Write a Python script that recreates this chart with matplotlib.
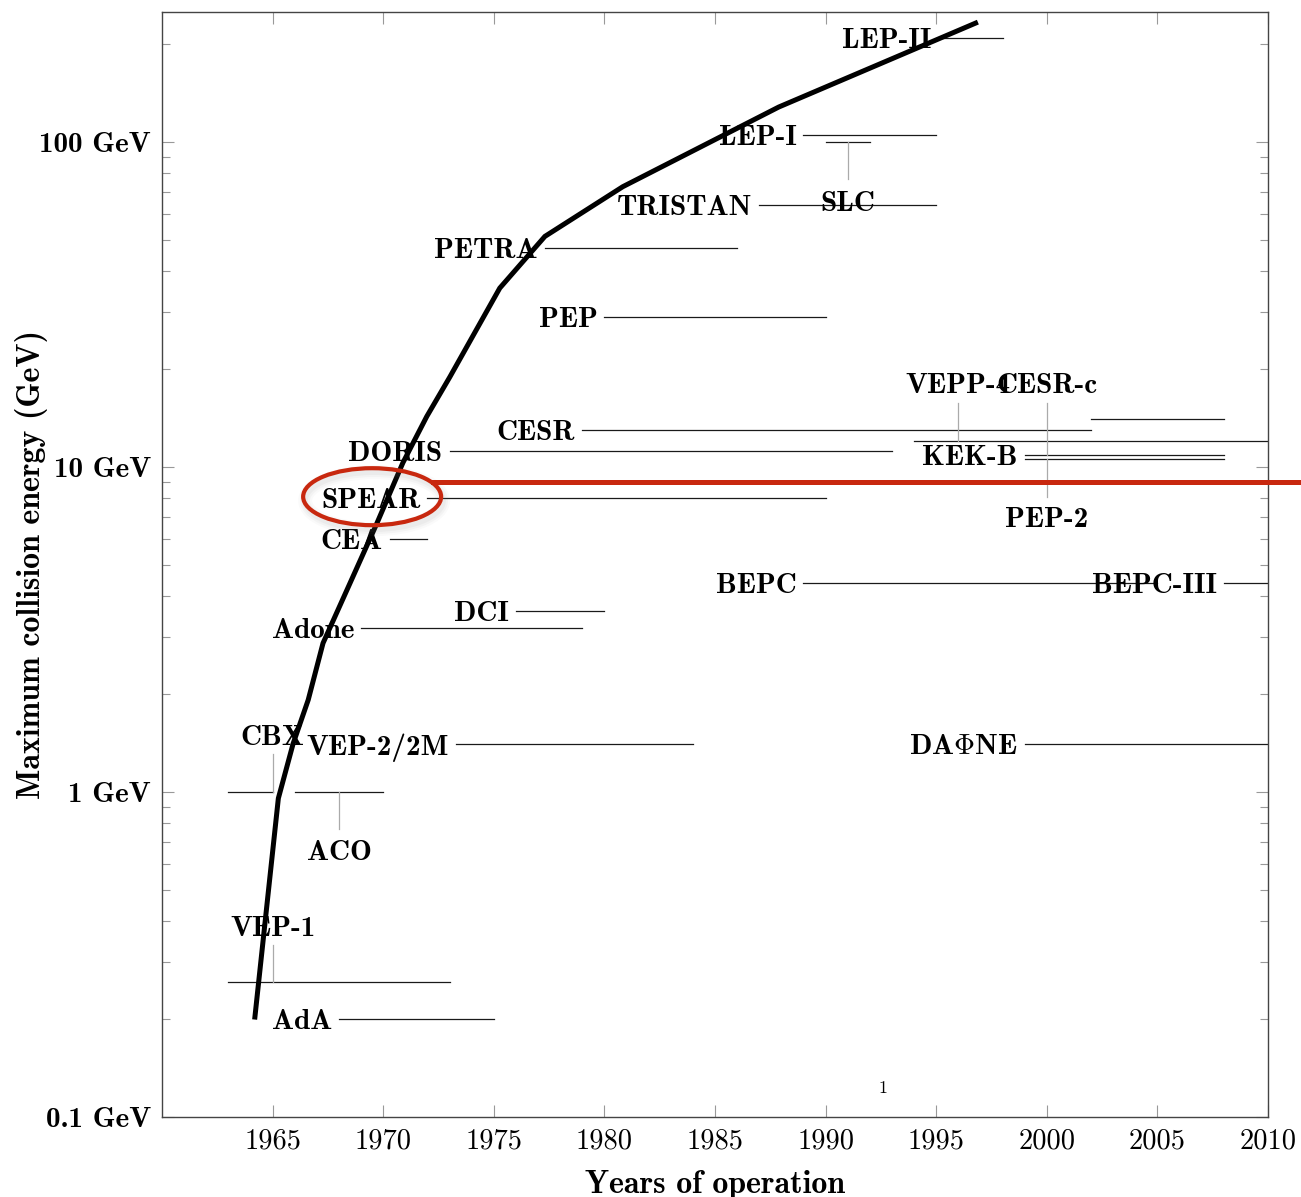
import numpy as np
import matplotlib.pyplot as plt
from matplotlib.patches import Ellipse
from matplotlib.lines import Line2D
from matplotlib.ticker import FixedLocator, NullFormatter

plt.rcParams['mathtext.fontset'] = 'cm'

# upper envelope of collision energy
curve_years = [1964.2, 1965.26, 1965.93, 1966.61, 1967.28, 1968.5, 1969.72, 1970.89,
               1971.97, 1973.01, 1975.27, 1977.31, 1980.83, 1987.88, 1996.78]
curve_gev = [0.203, 0.956, 1.41, 1.92, 2.87, 4.39, 6.72, 10.3,
             14.3, 18.9, 35.5, 51.2, 72.8, 128, 232]

# machines labelled at the start of their line
names = ["AdA", "VEP-2/2M", "Adone", "DCI", "CEA", "SPEAR", "DORIS", "CESR", "PEP",
         "PETRA", "TRISTAN", "LEP-I", "LEP-II", "BEPC", "BEPC-III", r"DA$\Phi$NE", "KEK-B"]
starts = [1968, 1973.3, 1969, 1976, 1970.3, 1972, 1973, 1979, 1980,
          1977.3, 1987, 1989, 1995.1, 1989, 2008, 1999, 1999]
ends = [1975, 1984, 1979, 1980, 1972, 1990, 1993, 2002, 1990,
        1986, 1995, 1995, 1998, 2005, 2010, 2010, 2008]
energy = [0.20, 1.40, 3.2, 3.6, 6.0, 8.0, 11.2, 13.0, 29.0,
          47.0, 64.0, 105.0, 209.0, 4.4, 4.4, 1.40, 10.9]

# machines labelled through a pin
pin_names = ["CBX", "ACO", "VEP-1", "SLC", "VEPP-4", "CESR-c", "PEP-2"]
pin_starts = [1963, 1966, 1963, 1990, 1994, 2002, 1999]
pin_ends = [1965, 1970, 1973, 1992, 2010, 2008, 2008]
pin_energy = [1.0, 1.0, 0.26, 100.0, 12.05, 14.0, 10.6]
pin_x = [1965, 1968, 1965, 1991, 1996, 2000, 2000]
pin_text_y = [1.50, 0.663, 0.387, 65.8, 18.1, 18.1, 7.0]
pin_y0 = [1.31, 1.0, 0.338, 100.0, 15.7, 15.7, 10.6]
pin_y1 = [1.0, 0.768, 0.26, 76.8, 12.05, 10.9, 8.1]

x_ticks = list(range(1965, 2011, 5))
y_ticks = [0.1, 1, 10, 100]
y_ticklabels = ["0.1 GeV", "1 GeV", "10 GeV", "100 GeV"]

fig = plt.figure(figsize=(13.01, 11.97), dpi=100)
ax = fig.add_axes([162 / 1301, 80 / 1197, 1106 / 1301, 1105 / 1197])
ax.set_yscale("log")
ax.set_xlim(1960, 2010)
ax.set_ylim(0.1, 251)

line_col = "#1a1a1a"
label_font = dict(family="cmb10", fontsize=21)

for n, s, e, en in zip(names, starts, ends, energy):
    ax.plot([s, e], [en, en], color=line_col, lw=0.9, zorder=2)
    ax.annotate(n, xy=(s, en), xytext=(-7, 0), textcoords="offset pixels",
                ha="right", va="center_baseline", zorder=4, **label_font)

for n, s, e, en, px, ty, y0, y1 in zip(pin_names, pin_starts, pin_ends, pin_energy,
                                        pin_x, pin_text_y, pin_y0, pin_y1):
    ax.plot([s, e], [en, en], color=line_col, lw=0.9, zorder=2)
    ax.plot([px, px], [y0, y1], color="#aaaaaa", lw=0.9, zorder=2)
    ax.text(px, ty, n, ha="center", va="center_baseline", zorder=4, **label_font)

ax.plot(curve_years, curve_gev, color="black", lw=3.6, solid_joinstyle="miter", zorder=3)

ax.text(1992.6, 0.1228, "1", family="cmr10", fontsize=13, ha="center", va="center")

# axes styling in pgfplots manner
ax.xaxis.set_major_locator(FixedLocator(x_ticks))
ax.set_xticklabels([str(t) for t in x_ticks], family="cmr10", fontsize=20.5)
ax.yaxis.set_major_locator(FixedLocator(y_ticks))
ax.yaxis.set_minor_locator(FixedLocator([m * 10.0 ** k for k in range(-1, 3) for m in range(2, 10)]))
ax.yaxis.set_minor_formatter(NullFormatter())
ax.set_yticklabels(y_ticklabels, family="cmb10", fontsize=21)
ax.tick_params(which="both", direction="in", top=True, right=True, color="#999999", width=0.8)
ax.tick_params(which="major", length=8.5, pad=8)
ax.tick_params(which="minor", length=5.8)
for sp in ax.spines.values():
    sp.set_color("#444444")
    sp.set_linewidth(1.0)

ax.set_xlabel("Years of operation", family="cmb10", fontsize=23)
ax.set_ylabel("Maximum collision energy (GeV)", family="cmb10", fontsize=23)
ax.xaxis.set_label_coords(0.5, -0.048)
ax.yaxis.set_label_coords(-0.1031, 0.5)

# red highlight around SPEAR
red = "#c8280f"
cx, cy = fig.transFigure.inverted().transform(ax.transData.transform((1969.5, 8.1)))
ew, eh = 138 / 1301, 57 / 1197
for k, a in enumerate([0.06, 0.05, 0.04]):
    fig.patches.append(Ellipse((cx + 2 / 1301, cy - 4 / 1197), ew, eh, fill=False,
                               edgecolor="gray", lw=4 + 3 * k, alpha=a,
                               transform=fig.transFigure))
fig.patches.append(Ellipse((cx, cy), ew, eh, fill=False, edgecolor=red, lw=3.0,
                           transform=fig.transFigure, zorder=10))
lx, ly = fig.transFigure.inverted().transform(ax.transData.transform((1972.25, 9.0)))
fig.lines.append(Line2D([lx, 1.0], [ly, ly], color=red, lw=3.6, transform=fig.transFigure))

fig.savefig("out.png", dpi=100)
